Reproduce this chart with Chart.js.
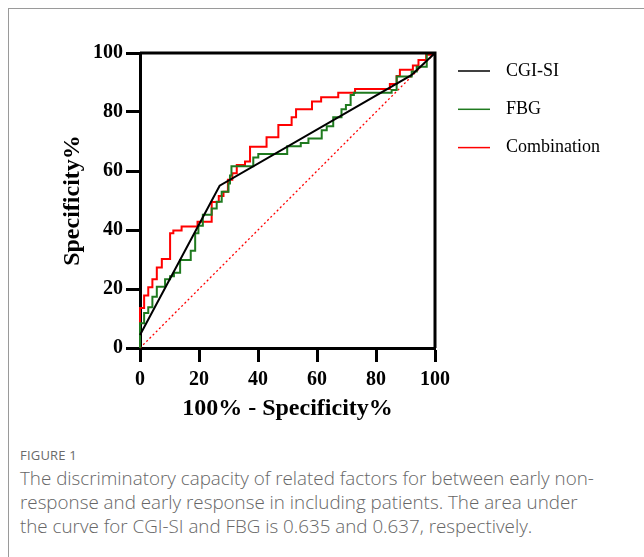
<!DOCTYPE html>
<html>
<head>
<meta charset="utf-8">
<script src="https://cdn.jsdelivr.net/npm/chart.js@4.4.0/dist/chart.umd.min.js"></script>
<style>
    body { margin: 0; background: #fff; width: 644px; height: 557px; overflow: hidden; position: relative; }
    .frame { position: absolute; left: 8px; top: 8px; width: 700px; height: 600px;
             border-top: 1px solid #9a9a9a; border-left: 1px solid #9a9a9a; }
    .plot { position: absolute; left: 0; top: 0; width: 644px; height: 430px; }
    .fig { position: absolute; left: 20px; top: 446px; font-family: "Open Sans", sans-serif;
           font-size: 13px; color: #6a6a6a; letter-spacing: 0.2px; }
    .caption { position: absolute; left: 20px; top: 466px; width: 630px; font-family: "Open Sans", sans-serif;
               font-size: 18.8px; line-height: 24px; color: #666; font-weight: 300; }
</style>
</head>
<body>
<div class="frame"></div>
<div class="plot"><canvas id="rocChart" width="644" height="430"></canvas></div>
<div class="fig">FIGURE 1</div>
<div class="caption">The discriminatory capacity of related factors for between early non-<br>response and early response in including patients. The area under<br>the curve for CGI-SI and FBG is 0.635 and 0.637, respectively.</div>

<script>
// ==========================
// ROC DATA
// ==========================

const seriesNames = ["CGI-SI", "FBG", "Combination"];
const seriesColors = ["#000000", "#1f7a1f", "#ff0000"];

const tickValues = [0, 20, 40, 60, 80, 100];

// CGI-SI (fitted line)
const cgiX = [0, 27, 92, 100];
const cgiY = [4.4, 55, 92.5, 100];

// FBG (empirical steps)
const fbgX = [0, 0, 1.4, 2.8, 4.2, 5.7, 8.5, 10.2, 11.5, 13.6, 17.2, 18.7, 19.8, 21.3, 24.3, 26, 27.7, 30, 30.5, 31, 38.4, 40.1, 49.9, 54.5, 57.1, 61.6, 63.3, 65.5, 68.3, 69.8, 71.4, 72.5, 85.3, 87, 92.1, 93.8, 97.2, 100];
const fbgY = [0, 8.4, 11.9, 13.8, 17.4, 20.8, 23.3, 24.3, 25.5, 29.8, 33, 38.9, 41.4, 45.2, 47.3, 49.6, 53, 55.8, 58.5, 61.6, 64.6, 65.8, 68.4, 69.5, 71, 73.8, 75.2, 78.2, 80.9, 82.4, 85.8, 86.5, 87.5, 92, 93.7, 95.3, 100, 100];

// Combination (empirical steps)
const comboX = [0, 0, 1.4, 2.8, 4.2, 5.7, 7.4, 10.2, 11.3, 14.1, 19.5, 24.3, 26.7, 28.3, 29.8, 31.3, 32.8, 35.6, 37.3, 42.9, 46.9, 51.4, 52.9, 58.3, 61.4, 67.2, 72.9, 84.7, 87, 88.1, 92.5, 94.4, 97, 99, 100];
const comboY = [0, 13.6, 17.8, 20.6, 23.3, 27.3, 30.2, 38.9, 39.8, 41.2, 42.8, 49.5, 51.5, 53, 57, 59.2, 62, 63.2, 68.2, 71.4, 75.6, 78.2, 80.9, 83.6, 85, 86.5, 87.8, 89.5, 92.2, 94.3, 95.8, 97.6, 99.4, 100, 100];

// reference diagonal
const refX = [0, 100];
const refY = [0, 100];


function toPoints(xs, ys) {

    return xs.map((x, i) => ({ x: x, y: ys[i] }));

}


// legend drawn at the right of the plot
const sideLegend = {

    id: "sideLegend",

    afterDraw(chart) {

        const ctx = chart.ctx;

        ctx.save();

        seriesNames.forEach((name, i) => {

            const y = 71 + i * 38.3;

            ctx.strokeStyle = seriesColors[i];
            ctx.lineWidth = 1.5;
            ctx.beginPath();
            ctx.moveTo(458, y);
            ctx.lineTo(490, y);
            ctx.stroke();

            ctx.fillStyle = "#000";
            ctx.font = "18px 'Liberation Serif'";
            ctx.textBaseline = "middle";
            ctx.fillText(name, 506, y);

        });

        ctx.restore();

    }

};


// closes the box on the top and right
const boxFrame = {

    id: "boxFrame",

    afterDatasetsDraw(chart) {

        const { ctx, chartArea } = chart;

        ctx.save();
        ctx.strokeStyle = "#000";
        ctx.lineWidth = 3;
        ctx.beginPath();
        ctx.moveTo(chartArea.left, chartArea.top);
        ctx.lineTo(chartArea.right, chartArea.top);
        ctx.lineTo(chartArea.right, chartArea.bottom);
        ctx.stroke();
        ctx.restore();

    }

};


const tickFont = { family: "'Liberation Serif'", size: 20, weight: "bold" };
const titleFont = { family: "'Liberation Serif'", size: 24, weight: "bold" };

new Chart(document.querySelector("#rocChart").getContext("2d"), {

    type: "scatter",

    data: {

        datasets: [

            {
                label: seriesNames[0],
                data: toPoints(cgiX, cgiY),
                showLine: true,
                borderColor: seriesColors[0],
                borderWidth: 2,
                pointRadius: 0,
                order: 0
            },

            {
                label: seriesNames[1],
                data: toPoints(fbgX, fbgY),
                showLine: true,
                stepped: true,
                borderColor: seriesColors[1],
                borderWidth: 2,
                pointRadius: 0,
                order: 1
            },

            {
                label: seriesNames[2],
                data: toPoints(comboX, comboY),
                showLine: true,
                stepped: true,
                borderColor: seriesColors[2],
                borderWidth: 2,
                pointRadius: 0,
                order: 2
            },

            {
                label: "Reference",
                data: toPoints(refX, refY),
                showLine: true,
                borderColor: "#ff0000",
                borderWidth: 1.3,
                borderDash: [2, 2.5],
                pointRadius: 0,
                order: 3
            }

        ]

    },

    options: {

        responsive: false,
        animation: false,
        clip: 4,

        layout: {
            padding: { left: 0, top: 53, right: 209, bottom: 0 }
        },

        plugins: {
            legend: { display: false },
            tooltip: { enabled: false }
        },

        scales: {

            x: {
                type: "linear",
                min: 0,
                max: 100,
                afterBuildTicks: (scale) => {
                    scale.ticks = tickValues.map(v => ({ value: v }));
                },
                afterFit: (scale) => { scale.height = 82; },
                ticks: {
                    color: "#000",
                    font: tickFont,
                    padding: 6,
                    maxRotation: 0
                },
                grid: {
                    display: true,
                    drawOnChartArea: false,
                    tickLength: 14,
                    tickWidth: 3,
                    tickColor: "#000"
                },
                border: { display: true, width: 3, color: "#000" },
                title: {
                    display: true,
                    text: "100% - Specificity%",
                    color: "#000",
                    font: titleFont,
                    padding: { top: 0, bottom: 7 }
                }
            },

            y: {
                type: "linear",
                min: 0,
                max: 100,
                afterBuildTicks: (scale) => {
                    scale.ticks = tickValues.map(v => ({ value: v }));
                },
                afterFit: (scale) => { scale.width = 140; },
                ticks: {
                    color: "#000",
                    font: tickFont,
                    padding: 3
                },
                grid: {
                    display: true,
                    drawOnChartArea: false,
                    tickLength: 14,
                    tickWidth: 3,
                    tickColor: "#000"
                },
                border: { display: true, width: 3, color: "#000" },
                title: {
                    display: true,
                    text: "Specificity%",
                    color: "#000",
                    font: titleFont,
                    padding: { top: 58, bottom: 0 }
                }
            }

        }

    },

    plugins: [sideLegend, boxFrame]

});
</script>
</body>
</html>
